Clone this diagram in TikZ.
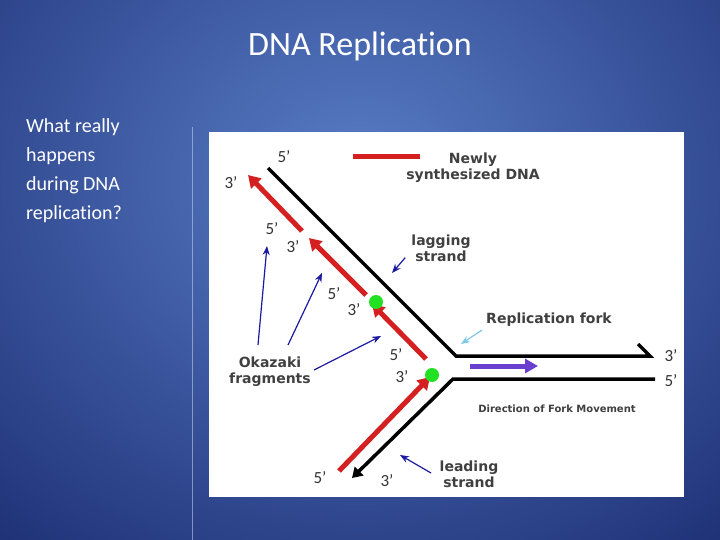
\documentclass[tikz,border=0pt]{standalone}
\usepackage{fontspec}
\setmainfont{Carlito}[Ligatures=NoCommon]
\newfontfamily\diag{DejaVu Sans}
\usetikzlibrary{arrows.meta}
\definecolor{bgin}{HTML}{587DC6}
\definecolor{bgout}{HTML}{1B2C72}
\definecolor{redd}{HTML}{D42020}
\definecolor{navy}{HTML}{1A1AA0}
\definecolor{lblue}{HTML}{7EC8E8}
\definecolor{purp}{HTML}{6A3FD0}
\definecolor{greenn}{HTML}{22E022}
\tikzset{
  lbl/.style={font=\diag\bfseries\fontsize{14}{16}\selectfont, text=black!75, inner sep=0pt, align=center},
  prime/.style={font=\fontsize{17}{17}\selectfont, text=black!80, inner sep=0pt},
  strand/.style={line width=3.5pt, black},
  newdna/.style={line width=5pt, redd, -{Triangle[length=12pt,width=14pt]}},
  pointer/.style={navy, line width=1.2pt, -{Stealth[length=9pt,width=7pt]}},
  dot/.style={circle, fill=greenn, minimum size=14pt, inner sep=0pt}
}
\begin{document}
\begin{tikzpicture}[x=1pt,y=-1pt]
\useasboundingbox (0,0) rectangle (720,540);
\begin{scope}
\clip (0,0) rectangle (720,540);
\fill[bgout] (0,0) rectangle (720,540);
\shade[outer color=bgout, inner color=bgin] (-240,-330) rectangle (960,690);
\end{scope}
\node[text=white, font=\fontsize{34}{34}\selectfont] (title) at (360,46) {DNA Replication};
\node[text=white, font=\fontsize{20}{29}\selectfont, anchor=north west, align=left, inner sep=0pt] (side) at (26,118) {What really\\happens\\during DNA\\replication?};
\coordinate (vt) at (192,127); \coordinate (vb) at (192,540);
\draw[white!60!bgin, line width=0.6pt, opacity=0.6] (vt) -- (vb);
\node[fill=white, draw=none, minimum width=475pt, minimum height=365pt, anchor=north west, inner sep=0pt] (panel) at (209,132) {};
% strands
\coordinate (t1) at (268,168); \coordinate (t2) at (456,356); \coordinate (t3) at (650,356); \coordinate (tk) at (638,344);
\draw[strand, line join=miter] (t1) -- (t2) -- (t3) -- (tk);
\coordinate (b1) at (655,379); \coordinate (b2) at (453,379); \coordinate (b3) at (352,478);
\draw[strand, -{Triangle[length=10pt,width=12pt]}] (b1) -- (b2) -- (b3);
% red fragments
\coordinate (r1s) at (302,231); \coordinate (r1e) at (248,175);
\coordinate (r2s) at (366,295); \coordinate (r2e) at (309,238);
\coordinate (r3s) at (426,359); \coordinate (r3e) at (372,304);
\coordinate (r4s) at (339,471); \coordinate (r4e) at (430,377);
\draw[newdna] (r1s) -- (r1e);
\draw[newdna] (r2s) -- (r2e);
\draw[newdna] (r3s) -- (r3e);
\draw[newdna] (r4s) -- (r4e);
\node[dot] (g1) at (376,302) {};
\node[dot] (g2) at (432,375) {};
% legend
\coordinate (l1) at (353,157); \coordinate (l2) at (420,157);
\draw[redd, line width=5pt] (l1) -- (l2);
\node[lbl] (newly) at (473,168) {Newly\\synthesized DNA};
% fork direction
\coordinate (p1) at (470,366); \coordinate (p2) at (538,366);
\draw[purp, line width=5pt, -{Triangle[length=13pt,width=14pt]}] (p1) -- (p2);
\node[lbl, font=\diag\bfseries\fontsize{10}{12}\selectfont] (dir) at (557,409) {Direction of Fork Movement};
% labels
\node[lbl] (lag) at (441,248) {lagging\\strand};
\node[lbl] (fork) at (549,320) {Replication fork};
\node[lbl] (oka) at (270,372) {Okazaki\\fragments};
\node[lbl] (lead) at (469,474) {leading\\strand};
% pointers
\coordinate (lagT) at (392,273); \draw[pointer] (lag.south west) ++(-6,-4) -- (lagT);
\coordinate (forkT) at (461,344); \draw[pointer, lblue] (fork.west) ++(-4,10) -- (forkT);
\coordinate (o1) at (267,246); \coordinate (o2) at (322,273); \coordinate (o3) at (381,336);
\coordinate (o1s) at (258,345); \coordinate (o2s) at (288,345); \coordinate (o3s) at (314,370);
\draw[pointer] (o1s) -- (o1);
\draw[pointer] (o2s) -- (o2);
\draw[pointer] (o3s) -- (o3);
\coordinate (leadS) at (431,473); \coordinate (leadT) at (400,455);
\draw[pointer] (leadS) -- (leadT);
% primes
\node[prime] (a1) at (284,157) {5'};
\node[prime] (a2) at (231,183) {3'};
\node[prime] (a3) at (272,229) {5'};
\node[prime] (a4) at (293,247) {3'};
\node[prime] (a5) at (334,294) {5'};
\node[prime] (a6) at (354,310) {3'};
\node[prime] (a7) at (396,355) {5'};
\node[prime] (a8) at (402,377) {3'};
\node[prime] (a9) at (671,356) {3'};
\node[prime] (a10) at (671,381) {5'};
\node[prime] (a11) at (320,478) {5'};
\node[prime] (a12) at (387,481) {3'};
\end{tikzpicture}
\end{document}
